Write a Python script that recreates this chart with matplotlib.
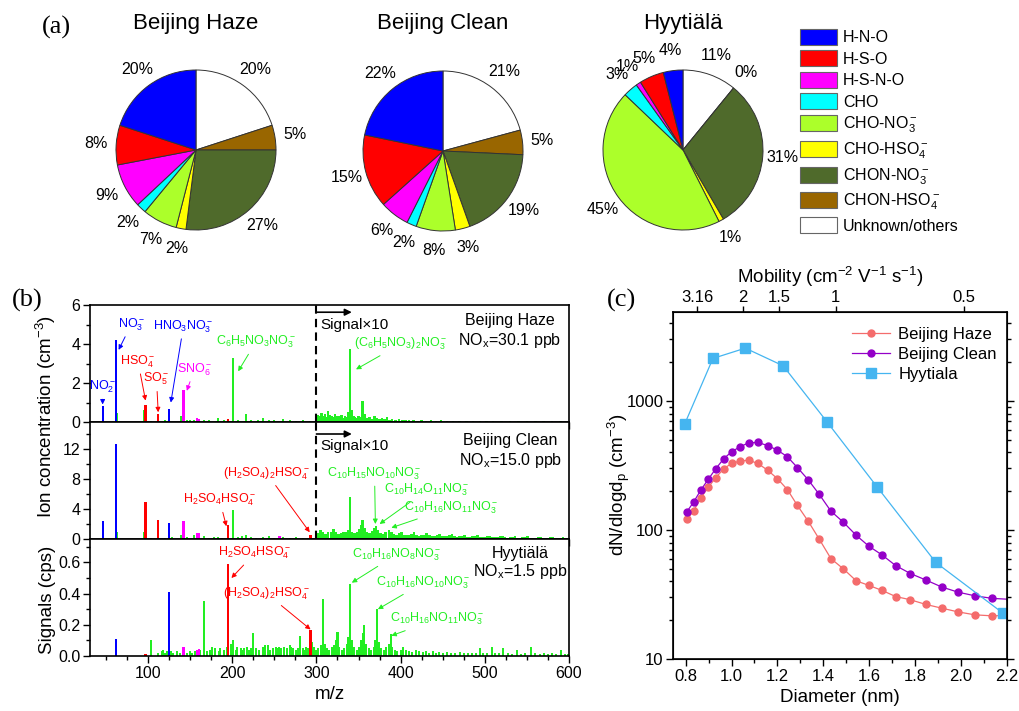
import matplotlib
matplotlib.use('Agg')
import matplotlib.pyplot as plt
from matplotlib.patches import Patch
from matplotlib.ticker import MultipleLocator, NullFormatter, FixedLocator, LogLocator, FormatStrFormatter

plt.rcParams['font.family'] = ['Liberation Sans', 'DejaVu Sans']
plt.rcParams['mathtext.fontset'] = 'custom'
plt.rcParams['mathtext.rm'] = 'Liberation Sans'
plt.rcParams['mathtext.it'] = 'Liberation Sans:italic'
plt.rcParams['mathtext.bf'] = 'Liberation Sans:bold'
plt.rcParams['mathtext.default'] = 'regular'

W, H = 1019, 711

# ---------------- (a) composition pies ----------------
groups = ['H-N-O', 'H-S-O', 'H-S-N-O', 'CHO', 'CHO-NO$_3^-$', 'CHO-HSO$_4^-$',
          'CHON-NO$_3^-$', 'CHON-HSO$_4^-$', 'Unknown/others']
group_colors = ['#0000ff', '#ff0000', '#ff00ff', '#00ffff', '#acff2a', '#ffff00',
                '#4f6a2b', '#996600', '#ffffff']
haze_pct = [20, 8, 9, 2, 7, 2, 27, 5, 20]
clean_pct = [22, 15, 6, 2, 8, 3, 19, 5, 21]
hyy_pct = [4, 5, 1, 3, 45, 1, 31, 0, 11]

# ---------------- (b) mass spectra ----------------
# Beijing Haze
haze_blue_mz, haze_blue = [46, 62, 125], [0.8, 4.2, 0.65]
haze_red_mz, haze_red = [97, 112, 195], [0.85, 0.4, 0.15]
haze_mag_mz, haze_mag = [142, 158, 160], [1.65, 0.2, 0.15]
haze_green_mz = [63, 95, 104, 113, 120, 139, 146, 150, 155, 166, 172, 183, 190, 201, 207, 216,
                 222, 230, 236, 244, 250, 260, 268, 276, 284, 292]
haze_green = [0.45, 0.6, 0.05, 0.05, 0.08, 0.32, 0.1, 0.08, 0.12, 0.1, 0.08, 0.22, 0.1, 3.3, 0.1, 0.4,
              0.1, 0.12, 0.22, 0.12, 0.08, 0.15, 0.08, 0.06, 0.1, 0.06]
# m/z > 300 shown as signal x10
haze_x10_mz = [300, 302, 304, 306, 308, 310, 312, 314, 316, 318, 320, 322, 324, 326, 328, 330, 332,
               334, 336, 338, 340, 342, 344, 346, 348, 350, 352, 355, 357, 360, 363, 366, 369, 372,
               375, 378, 381, 384, 387, 390, 394, 398, 402, 406, 410, 415, 420, 425, 430, 436, 442,
               448, 455, 462, 470, 478, 486, 494, 502, 510, 520, 530, 540, 550, 560, 570, 580, 590, 598]
haze_x10 = [0.15, 0.35, 0.3, 0.45, 0.3, 0.4, 0.25, 0.55, 0.35, 0.3, 0.25, 0.4, 0.3, 0.3, 0.25, 0.35, 0.2,
            0.3, 0.25, 0.5, 3.75, 0.6, 0.3, 0.25, 0.2, 0.3, 0.25, 1.1, 0.4, 0.2, 0.25, 0.15, 0.3, 0.2,
            0.15, 0.2, 0.15, 0.25, 0.12, 0.15, 0.1, 0.15, 0.1, 0.12, 0.08, 0.1, 0.07, 0.08, 0.06, 0.1, 0.06,
            0.08, 0.05, 0.07, 0.05, 0.06, 0.04, 0.05, 0.04, 0.05, 0.04, 0.05, 0.03, 0.04, 0.03, 0.04, 0.03, 0.03, 0.02]

# Beijing Clean
clean_blue_mz, clean_blue = [46, 62, 125], [2.4, 12.7, 2.15]
clean_red_mz, clean_red = [97, 112, 195, 293], [5.0, 2.6, 1.9, 0.5]
clean_mag_mz, clean_mag = [142, 158, 160, 256], [2.35, 0.8, 0.75, 0.45]
clean_green_mz = [63, 95, 104, 113, 120, 128, 139, 146, 155, 160, 166, 172, 178, 183, 188, 201, 207,
                  212, 216, 222, 228, 236, 244, 250, 260, 268, 276, 284, 290, 296]
clean_green = [1.0, 0.9, 0.2, 0.15, 0.2, 0.3, 0.5, 0.3, 0.55, 0.3, 0.45, 0.2, 0.25, 0.3, 0.2, 3.9, 0.3,
               0.4, 0.5, 0.3, 0.2, 0.3, 0.35, 0.2, 0.3, 0.2, 0.25, 0.2, 0.15, 0.2]
clean_x10_mz = [302, 305, 308, 311, 314, 317, 320, 323, 326, 329, 332, 335, 338, 340, 342, 345, 348,
                351, 353, 355, 357, 360, 363, 366, 369, 371, 373, 376, 379, 382, 386, 389, 392, 395,
                398, 401, 404, 407, 410, 413, 416, 419, 422, 425, 428, 431, 434, 437, 440, 443, 446,
                449, 452, 455, 458, 461, 464, 467, 470, 473, 476, 479, 482, 485, 488, 491, 494, 497,
                500, 503, 506, 509, 512, 515, 518, 521, 524, 527, 530, 533, 536, 539, 542, 545, 548,
                551, 554, 557, 560, 563, 566, 569, 572, 575, 578, 581, 584, 587, 590, 593, 596, 599]
clean_x10 = [0.8, 1.2, 0.9, 0.7, 0.9, 1.0, 1.3, 0.9, 0.7, 0.8, 1.0, 0.9, 1.2, 5.6, 1.0, 0.8, 0.9,
             1.3, 1.9, 2.5, 1.5, 0.9, 0.8, 1.1, 1.5, 1.8, 1.2, 0.8, 0.7, 0.9, 1.2, 0.9, 0.7, 0.6,
             0.8, 1.0, 0.6, 0.5, 0.5, 0.7, 0.9, 0.5, 0.4, 0.5, 0.6, 0.8, 0.5, 0.4, 0.4, 0.5, 0.7,
             0.4, 0.35, 0.4, 0.5, 0.65, 0.35, 0.3, 0.35, 0.45, 0.55, 0.3, 0.3, 0.35, 0.45, 0.5, 0.3, 0.25,
             0.3, 0.4, 0.45, 0.25, 0.25, 0.3, 0.35, 0.4, 0.25, 0.2, 0.25, 0.3, 0.4, 0.2, 0.2, 0.25, 0.3,
             0.35, 0.2, 0.2, 0.2, 0.25, 0.3, 0.2, 0.15, 0.2, 0.25, 0.3, 0.15, 0.15, 0.2, 0.25, 0.2, 0.15]

# Hyytiala (no scaling)
hyy_blue_mz, hyy_blue = [62, 125], [0.11, 0.41]
hyy_red_mz, hyy_red = [97, 195, 293], [0.01, 0.59, 0.165]
hyy_mag_mz, hyy_mag = [142, 158, 160], [0.055, 0.04, 0.045]
hyy_green_mz = [104, 112, 116, 118, 120, 123, 127, 130, 134, 138, 146, 150, 152, 156, 162, 166, 170,
                174, 176, 180, 184, 186, 190, 194, 198, 201, 204, 206, 210, 212, 214, 218, 220, 222,
                225, 228, 232, 236, 239, 242, 245, 248, 252, 254, 256, 258, 262, 265, 268, 270, 272,
                276, 278, 281, 284, 286, 288, 290, 295, 297, 300, 302, 305, 308, 310, 312, 315, 318,
                321, 323, 325, 327, 330, 333, 336, 338, 340, 342, 345, 348, 351, 353, 355, 357, 359,
                362, 365, 368, 370, 372, 374, 377, 380, 383, 386, 388, 390, 393, 396, 400, 403, 406,
                410, 414, 418, 422, 426, 430, 434, 438, 442, 446, 450, 455, 460, 465, 470, 475, 480,
                485, 490, 494, 498, 503, 508, 512, 517, 522, 527, 532, 538, 543, 548, 555, 560, 565,
                570, 575, 580, 585, 590, 595, 599]
hyy_green = [0.1, 0.02, 0.03, 0.04, 0.02, 0.03, 0.03, 0.02, 0.03, 0.02, 0.02, 0.03, 0.02, 0.03, 0.04, 0.355, 0.03,
             0.04, 0.06, 0.05, 0.03, 0.05, 0.04, 0.06, 0.08, 0.1, 0.04, 0.06, 0.05, 0.04, 0.05, 0.06, 0.04, 0.05,
             0.15, 0.05, 0.04, 0.06, 0.07, 0.07, 0.04, 0.05, 0.06, 0.05, 0.06, 0.05, 0.06, 0.05, 0.07, 0.06, 0.05,
             0.04, 0.05, 0.13, 0.05, 0.04, 0.06, 0.05, 0.09, 0.06, 0.04, 0.05, 0.07, 0.365, 0.08, 0.05, 0.04, 0.06,
             0.07, 0.1, 0.155, 0.06, 0.04, 0.05, 0.08, 0.12, 0.46, 0.1, 0.06, 0.04, 0.06, 0.1, 0.15, 0.2, 0.08,
             0.05, 0.04, 0.06, 0.1, 0.3, 0.09, 0.05, 0.04, 0.06, 0.08, 0.14, 0.06, 0.04, 0.03, 0.04, 0.06, 0.04,
             0.03, 0.025, 0.04, 0.03, 0.025, 0.03, 0.02, 0.03, 0.02, 0.025, 0.02, 0.025, 0.02, 0.02, 0.025, 0.02, 0.02,
             0.02, 0.02, 0.05, 0.02, 0.02, 0.055, 0.02, 0.02, 0.05, 0.02, 0.015, 0.04, 0.015, 0.02, 0.055, 0.02, 0.015,
             0.02, 0.015, 0.02, 0.015, 0.04, 0.015, 0.015]

# ---------------- (c) size distributions ----------------
diam_bj = [0.806, 0.835, 0.867, 0.899, 0.931, 0.966, 1.0, 1.036, 1.074, 1.115, 1.157, 1.2, 1.243, 1.287,
           1.334, 1.382, 1.433, 1.487, 1.543, 1.598, 1.656, 1.715, 1.779, 1.846, 1.915, 1.986, 2.06,
           2.136, 2.215]
dn_haze = [121, 141, 178, 215, 254, 299, 328, 342, 348, 328, 291, 250, 206, 155, 117, 85, 60, 50, 40.4,
           37.2, 34, 30.5, 28.8, 26.5, 24.8, 23.2, 22.0, 21.6, 21.8]
dn_clean = [139, 165, 205, 248, 298, 357, 404, 441, 474, 477, 452, 416, 370, 305, 245, 189, 140, 115, 91,
            75, 64, 53, 46, 41, 36.2, 33, 30.9, 29.5, 29]
diam_hyy = [0.796, 0.919, 1.06, 1.225, 1.416, 1.633, 1.89, 2.182]
dn_hyy = [664, 2140, 2570, 1875, 689, 217, 56, 22.7]
mob_labels = ['3.16', '2', '1.5', '1', '0.5']
mob_diam = [0.851, 1.051, 1.206, 1.453, 2.011]


def rect(x0, y0, x1, y1):
    return [x0 / W, 1 - y1 / H, (x1 - x0) / W, (y1 - y0) / H]


fig = plt.figure(figsize=(W / 100, H / 100), dpi=100)

# ---- (a)
for title, vals, cx, cy in [('Beijing Haze', haze_pct, 196, 150),
                            ('Beijing Clean', clean_pct, 443, 151),
                            ('Hyytiälä', hyy_pct, 683, 150)]:
    ax = fig.add_axes(rect(cx - 100, cy - 100, cx + 100, cy + 100))
    wedges, texts = ax.pie(vals[::-1], colors=group_colors[::-1],
                           labels=['%d%%' % v for v in vals[::-1]], labeldistance=1.25,
                           startangle=90, counterclock=False,
                           wedgeprops=dict(edgecolor='#333333', linewidth=0.7),
                           textprops=dict(fontsize=11.5))
    for t in texts:
        t.set_ha('center')
    ax.set_xlim(-1.25, 1.25)
    ax.set_ylim(-1.25, 1.25)
    ax.set_aspect('equal')
    fig.text(cx / W, 1 - 23 / H, title, ha='center', va='center', fontsize=16)

handles = [Patch(facecolor=c, edgecolor='#666666', linewidth=0.8) for c in group_colors]
fig.legend(handles, groups, loc='upper left', bbox_to_anchor=(800 / W, 1 - 29 / H), frameon=False,
           fontsize=11.5, handlelength=2.3, handleheight=1.15, labelspacing=0.32,
           handletextpad=0.4, borderaxespad=0, borderpad=0)

fig.text(56 / W, 1 - 27 / H, '(a)', family='Liberation Serif', fontsize=19, ha='center', va='center')
fig.text(27 / W, 1 - 300 / H, '(b)', family='Liberation Serif', fontsize=19, ha='center', va='center')
fig.text(622 / W, 1 - 300 / H, '(c)', family='Liberation Serif', fontsize=19, ha='center', va='center')

# ---- (b)
green = '#22ee22'
axb = [fig.add_axes(rect(90, 305, 569, 422)),
       fig.add_axes(rect(90, 422, 569, 539)),
       fig.add_axes(rect(90, 539, 569, 656))]
panels = [
    (haze_green_mz, haze_green, haze_x10_mz, haze_x10, haze_blue_mz, haze_blue,
     haze_red_mz, haze_red, haze_mag_mz, haze_mag),
    (clean_green_mz, clean_green, clean_x10_mz, clean_x10, clean_blue_mz, clean_blue,
     clean_red_mz, clean_red, clean_mag_mz, clean_mag),
    (hyy_green_mz, hyy_green, [], [], hyy_blue_mz, hyy_blue, hyy_red_mz, hyy_red, hyy_mag_mz, hyy_mag),
]
for ax, (gm, gv, xm, xv, bm, bv, rm, rv, mm, mv) in zip(axb, panels):
    ax.bar(gm, gv, width=2.4, color=green, linewidth=0)
    if xm:
        ax.bar(xm, xv, width=3.0, color=green, linewidth=0)
    ax.bar(bm, bv, width=2.6, color='#0000ff', linewidth=0)
    ax.bar(rm, rv, width=2.6, color='#ff0000', linewidth=0)
    ax.bar(mm, mv, width=2.6, color='#ff00ff', linewidth=0)
    ax.set_xlim(31, 600)
    ax.xaxis.set_major_locator(MultipleLocator(100))
    ax.xaxis.set_minor_locator(MultipleLocator(25))
    ax.tick_params(which='major', direction='out', length=5, width=1, labelsize=11.5, pad=2)
    ax.tick_params(which='minor', direction='out', length=3, width=1)
    for s in ax.spines.values():
        s.set_linewidth(1.2)

axb[0].set_ylim(0, 6)
axb[0].yaxis.set_major_locator(MultipleLocator(2))
axb[0].yaxis.set_minor_locator(MultipleLocator(1))
axb[1].set_ylim(0, 15.6)
axb[1].yaxis.set_major_locator(MultipleLocator(4))
axb[1].yaxis.set_minor_locator(MultipleLocator(2))
axb[2].set_ylim(0, 0.75)
axb[2].yaxis.set_major_locator(MultipleLocator(0.2))
axb[2].yaxis.set_minor_locator(MultipleLocator(0.1))
axb[2].yaxis.set_major_formatter(FormatStrFormatter('%.1f'))
axb[0].tick_params(labelbottom=False)
axb[1].tick_params(labelbottom=False)
axb[2].set_xlabel('m/z', fontsize=13.5, labelpad=4)

for ax, ytxt, yarr in [(axb[0], 5.0, 5.63), (axb[1], 12.4, 14.0)]:
    ax.axvline(300, color='k', ls=(0, (4, 2.5)), lw=1.5)
    ax.annotate('', xy=(342, yarr), xytext=(300, yarr),
                arrowprops=dict(arrowstyle='-|>', color='k', lw=1.2, mutation_scale=10,
                                shrinkA=0, shrinkB=0))
    ax.text(305, ytxt, 'Signal×10', fontsize=11, ha='left', va='center')


def ann(ax, txt, xy, xytext, color):
    ax.annotate(txt, xy=xy, xytext=xytext, color=color, fontsize=9, ha='center', va='center',
                arrowprops=dict(arrowstyle='-|>', color=color, lw=0.7, mutation_scale=7,
                                shrinkA=1, shrinkB=0))


ann(axb[0], '$NO_2^-$', (46, 0.9), (46, 1.8), '#0000ff')
ann(axb[0], '$NO_3^-$', (65, 3.7), (80, 5.0), '#0000ff')
ann(axb[0], '$HSO_4^-$', (97, 1.1), (88, 3.1), '#ff0000')
ann(axb[0], '$SO_5^-$', (112, 0.5), (110, 2.2), '#ff0000')
ann(axb[0], '$HNO_3NO_3^-$', (127, 1.0), (142, 4.9), '#0000ff')
ann(axb[0], '$SNO_6^-$', (146, 1.6), (155, 2.7), '#ff00ff')
ann(axb[0], '$C_6H_5NO_3NO_3^-$', (207, 2.6), (228, 4.1), green)
ann(axb[0], '$(C_6H_5NO_3)_2NO_3^-$', (347, 2.7), (400, 4.0), green)

ann(axb[1], '$H_2SO_4HSO_4^-$', (193, 1.7), (185, 5.2), '#ff0000')
ann(axb[1], '$(H_2SO_4)_2HSO_4^-$', (292, 0.9), (241, 8.75), '#ff0000')
ann(axb[1], '$C_{10}H_{15}NO_{10}NO_3^-$', (370, 2.0), (369, 8.7), green)
ann(axb[1], '$C_{10}H_{14}O_{11}NO_3^-$', (375, 2.0), (431, 6.5), green)
ann(axb[1], '$C_{10}H_{16}NO_{11}NO_3^-$', (389, 1.5), (460, 4.2), green)

ann(axb[2], '$H_2SO_4HSO_4^-$', (199, 0.5), (227, 0.66), '#ff0000')
ann(axb[2], '$(H_2SO_4)_2HSO_4^-$', (293, 0.17), (241, 0.40), '#ff0000')
ann(axb[2], '$C_{10}H_{16}NO_8NO_3^-$', (342, 0.47), (395, 0.65), green)
ann(axb[2], '$C_{10}H_{16}NO_{10}NO_3^-$', (373, 0.30), (427, 0.47), green)
ann(axb[2], '$C_{10}H_{16}NO_{11}NO_3^-$', (389, 0.13), (443, 0.236), green)

axb[0].text(530, 5.2, 'Beijing Haze', fontsize=11.5, ha='center', va='center')
axb[0].text(530, 4.17, 'NO$_x$=30.1 ppb', fontsize=11.5, ha='center', va='center')
axb[1].text(530, 13.2, 'Beijing Clean', fontsize=11.5, ha='center', va='center')
axb[1].text(531, 10.5, 'NO$_x$=15.0 ppb', fontsize=11.5, ha='center', va='center')
axb[2].text(542, 0.66, 'Hyytiälä', fontsize=11.5, ha='center', va='center')
axb[2].text(542, 0.54, 'NO$_x$=1.5 ppb', fontsize=11.5, ha='center', va='center')

fig.text(46 / W, 1 - 416 / H, 'Ion concentration (cm$^{-3}$)', rotation=90, fontsize=13.5,
         ha='center', va='center')
fig.text(48 / W, 1 - 600 / H, 'Signals (cps)', rotation=90, fontsize=13.5, ha='center', va='center')

# ---- (c)
axc = fig.add_axes(rect(673, 312, 1007, 659))
axc.plot(diam_bj, dn_haze, '-o', color='#f46c6c', lw=0.9, ms=5, label='Beijing Haze')
axc.plot(diam_bj, dn_clean, '-o', color='#9400c8', lw=0.9, ms=5, label='Beijing Clean')
axc.plot(diam_hyy, dn_hyy, '-s', color='#45b5f0', lw=0.9, ms=6.5, label='Hyytiala')
axc.set_yscale('log')
axc.set_xlim(0.745, 2.2)
axc.set_ylim(10, 4900)
axc.xaxis.set_major_locator(MultipleLocator(0.2))
axc.xaxis.set_minor_locator(MultipleLocator(0.1))
axc.xaxis.set_major_formatter(FormatStrFormatter('%.1f'))
axc.yaxis.set_major_locator(FixedLocator([10, 100, 1000]))
axc.yaxis.set_major_formatter(FormatStrFormatter('%d'))
axc.yaxis.set_minor_locator(LogLocator(base=10, subs=range(2, 10)))
axc.yaxis.set_minor_formatter(NullFormatter())
axc.tick_params(which='major', direction='out', length=5, width=1, labelsize=12, right=True, pad=2)
axc.tick_params(which='minor', direction='out', length=3, width=1, right=True)
for s in axc.spines.values():
    s.set_linewidth(1.2)
axc.set_xlabel('Diameter (nm)', fontsize=13.5, labelpad=4)
fig.text(619 / W, 1 - 485 / H, 'dN/dlogd$_p$ (cm$^{-3}$)', rotation=90, fontsize=13.5,
         ha='center', va='center')
axc.legend(loc='upper right', bbox_to_anchor=(1.0, 0.985), frameon=False, fontsize=12,
           handlelength=2.3, handletextpad=0.5, labelspacing=0.3, borderaxespad=0.2)

axt = axc.twiny()
axt.set_xlim(axc.get_xlim())
axt.set_xticks(mob_diam)
axt.set_xticklabels(mob_labels)
axt.tick_params(direction='out', length=4, width=1, labelsize=12, pad=1)
fig.text(830 / W, 1 - 277 / H, 'Mobility (cm$^{-2}$ V$^{-1}$ s$^{-1}$)', fontsize=13.5,
         ha='center', va='center')

fig.savefig('out.png', dpi=100)
